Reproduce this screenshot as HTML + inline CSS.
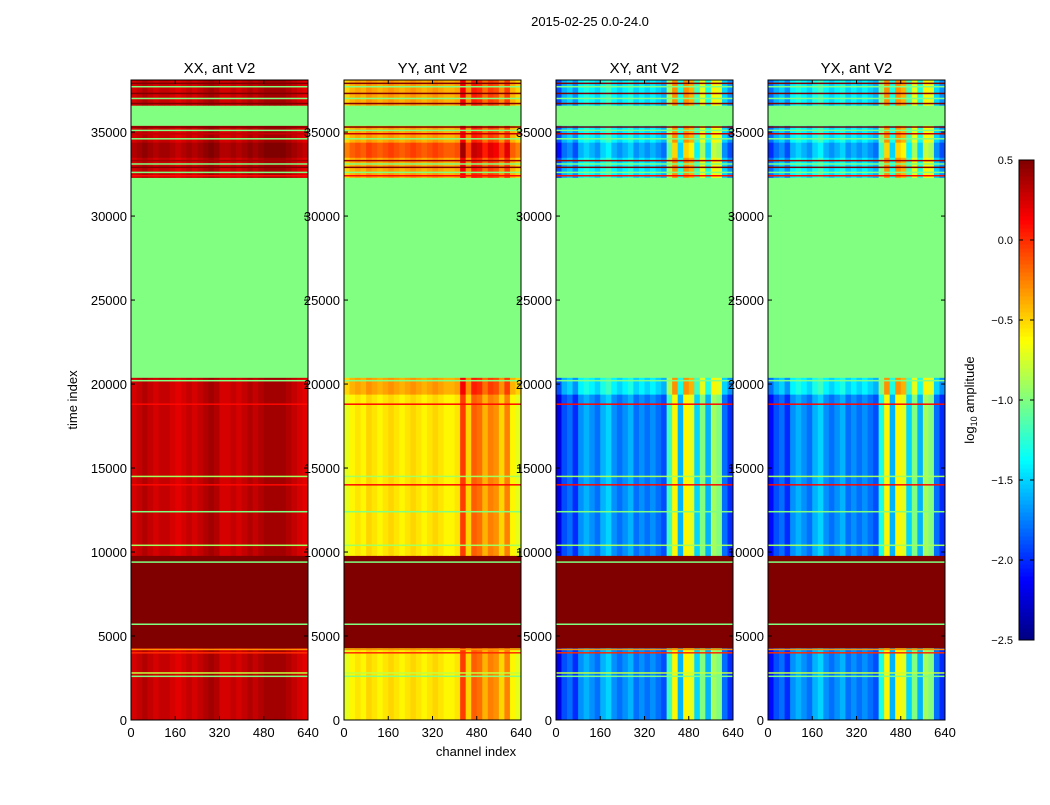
<!DOCTYPE html>
<html><head><meta charset="utf-8"><style>
body{margin:0;background:#fff;font-family:"Liberation Sans",sans-serif;}
svg text{font-family:"Liberation Sans",sans-serif;}
</style></head><body>
<svg id="chart" width="1050" height="800" xmlns="http://www.w3.org/2000/svg">
<rect width="1050" height="800" fill="#fff"/>
<text x="590" y="26" font-size="13" text-anchor="middle">2015-02-25 0.0-24.0</text>
<text x="476" y="756" font-size="13" text-anchor="middle">channel index</text>
<text x="77" y="400" font-size="13" text-anchor="middle" transform="rotate(-90 77 400)">time index</text>
<text x="974" y="400" font-size="13" text-anchor="middle" transform="rotate(-90 974 400)">log<tspan font-size="9" dy="3">10</tspan><tspan dy="-3"> amplitude</tspan></text>
</svg>
<script>
const panelTitles = ["XX, ant V2","YY, ant V2","XY, ant V2","YX, ant V2"];
const xTicks = [0,160,320,480,640];
const yTicks = [0,5000,10000,15000,20000,25000,30000,35000];
const cbTicks = [0.5,0.0,-0.5,-1.0,-1.5,-2.0,-2.5];
const profXX = [0.25,0.3,0.35,0.3,0.25,0.3,0.3,0.25,0.2,0.25,0.3,0.25,0.3,0.35,0.4,0.35,0.25,0.25,0.3,0.25,0.3,0.35,0.3,0.35,0.4,0.4,0.4,0.4,0.35,0.3,0.25,0.2];
const profYY = [-0.7,-0.6,-0.55,-0.6,-0.5,-0.55,-0.6,-0.55,-0.5,-0.55,-0.6,-0.55,-0.5,-0.55,-0.6,-0.55,-0.5,-0.55,-0.6,-0.6,-0.55,-0.05,-0.5,-0.15,-0.2,-0.4,-0.25,-0.3,-0.5,-0.25,-0.6,-0.7];
const profXY = [-2.2,-1.9,-1.8,-2.0,-1.7,-1.6,-1.7,-1.8,-1.6,-1.5,-1.7,-1.8,-1.7,-1.6,-1.8,-1.7,-1.8,-1.7,-1.8,-1.9,-1.2,-0.6,-1.6,-0.6,-0.7,-1.5,-1.0,-1.6,-0.9,-1.0,-1.8,-2.0];
const profYX = [-2.1,-1.9,-1.8,-2.0,-1.7,-1.6,-1.7,-1.8,-1.6,-1.5,-1.7,-1.8,-1.7,-1.6,-1.8,-1.7,-1.8,-1.7,-1.8,-1.9,-1.3,-0.6,-1.6,-0.6,-0.7,-1.5,-1.0,-1.6,-0.9,-1.0,-1.8,-2.0];
const segStart = [0,4300,9800,19400,20400,32300,33500,34400,35400,36600];
const segEnd   = [4300,9800,19400,20400,32300,33500,34400,35400,36600,38100];
const segKind  = ["d","r","d","m","g","m","d2","m","g","m"];
const offD2 = [0.1,0.45,0.1,0.1];
const offM = [0.0,0.2,0.3,0.3];
const lineTimes = [2600,2800,4000,4200,5700,9400,10400,12400,14000,14500,18800,20200,32400,32600,32900,33100,33300,34600,34900,35100,35300,36700,37000,37300,37700,37900];
const lineVals  = [-1.0,-0.8,0.0,-0.3,-1.0,-1.0,-0.9,-1.0,0.1,-0.9,0.1,-1.0,0.1,-1.0,0.6,-1.0,0.4,-1.0,0.3,-1.0,0.6,0.6,-1.0,0.5,-1.0,0.6];
const YMAX = 38100, CMAX = 640;
const panelX = [131,344,556,768], PW = 177, PT = 80, PB = 720;
const profs = [profXX,profYY,profXY,profYX];
const svg = document.getElementById('chart');
const NS = 'http://www.w3.org/2000/svg';
function jet(v){let t=(v+2.5)/3;t=Math.max(0,Math.min(1,t));
 const c=x=>Math.round(255*Math.max(0,Math.min(1,x)));
 return `rgb(${c(1.5-Math.abs(4*t-3))},${c(1.5-Math.abs(4*t-2))},${c(1.5-Math.abs(4*t-1))})`;}
function yS(t){return PB-(t/YMAX)*(PB-PT);}
function mk(tag,attrs){const e=document.createElementNS(NS,tag);for(const k in attrs)e.setAttribute(k,attrs[k]);svg.appendChild(e);return e;}
panelX.forEach((px,p)=>{
 const xS=c=>px+(c/CMAX)*PW;
 const prof=profs[p], nb=prof.length, bw=CMAX/nb;
 const g=document.createElementNS(NS,'g');
 
 
 svg.appendChild(g);
 segStart.forEach((s,i)=>{
  const k=segKind[i], y0=yS(segEnd[i]), y1=yS(s);
  if(k==='g'||k==='r'||k==='h'){
   const r=document.createElementNS(NS,'rect');
   r.setAttribute('x',px);r.setAttribute('y',y0);r.setAttribute('width',PW);r.setAttribute('height',y1-y0+0.5);
   r.setAttribute('fill',jet(k==='g'?-1.0:0.6));
   
   
   g.appendChild(r);
  } else {
   const off = k==='d2'?offD2[p]:(k==='m'?offM[p]:0);
   for(let b=0;b<nb;b++){
    const r=document.createElementNS(NS,'rect');
    const x0=xS(b*bw),x1=xS((b+1)*bw);
    r.setAttribute('x',x0);r.setAttribute('y',y0);r.setAttribute('width',x1-x0+0.4);r.setAttribute('height',y1-y0+0.5);
    r.setAttribute('fill',jet(prof[b]+off));
    
    
    g.appendChild(r);
   }
  }
 });
 lineTimes.forEach((t,i)=>{
  const l=document.createElementNS(NS,'rect');
  l.setAttribute('x',px);l.setAttribute('y',yS(t)-0.75);l.setAttribute('width',PW);l.setAttribute('height',1.5);
  l.setAttribute('fill',jet(lineVals[i]));
  
  
  g.appendChild(l);
 });
 const fr=mk('rect',{x:px,y:PT,width:PW,height:PB-PT,fill:'none',stroke:'#000','stroke-width':1});
 
 
 const tt=mk('text',{x:px+PW/2,y:73,'font-size':15,'text-anchor':'middle'});
 tt.textContent=panelTitles[p];
 
 
 xTicks.forEach(v=>{
  const x=xS(v);
  mk('line',{x1:x,x2:x,y1:PB,y2:PB-4,stroke:'#000'});
  mk('line',{x1:x,x2:x,y1:PT,y2:PT+4,stroke:'#000'});
  const t=mk('text',{x:x,y:PB+17,'font-size':13,'text-anchor':'middle'});
  t.textContent=v;
  
  
 });
 yTicks.forEach(v=>{
  const y=yS(v);
  mk('line',{x1:px,x2:px+4,y1:y,y2:y,stroke:'#000'});
  mk('line',{x1:px+PW,x2:px+PW-4,y1:y,y2:y,stroke:'#000'});
  const t=mk('text',{x:px-4,y:y+5,'font-size':13,'text-anchor':'end'});
  t.textContent=v;
  
  
 });
});
// colorbar
const CBX=1019, CBW=15, CBT=160, CBB=640;
const cbS=v=>CBB-(v+2.5)/3*(CBB-CBT);
for(let i=0;i<120;i++){
 const v0=-2.5+3*i/120, v1=-2.5+3*(i+1)/120;
 const r=mk('rect',{x:CBX,y:cbS(v1),width:CBW,height:cbS(v0)-cbS(v1)+0.5,fill:jet((v0+v1)/2)});
 
 
}
const cbf=mk('rect',{x:CBX,y:CBT,width:CBW,height:CBB-CBT,fill:'none',stroke:'#000'});


cbTicks.forEach(v=>{
 const y=cbS(v);
 mk('line',{x1:CBX+CBW,x2:CBX+CBW-4,y1:y,y2:y,stroke:'#000'});
 mk('line',{x1:CBX,x2:CBX+4,y1:y,y2:y,stroke:'#000'});
 const t=mk('text',{x:1013,y:y+4,'font-size':11,'text-anchor':'end'});
 t.textContent=(v<0?'\u2212':'')+Math.abs(v).toFixed(1);
 
 
});
</script>
</body></html>
